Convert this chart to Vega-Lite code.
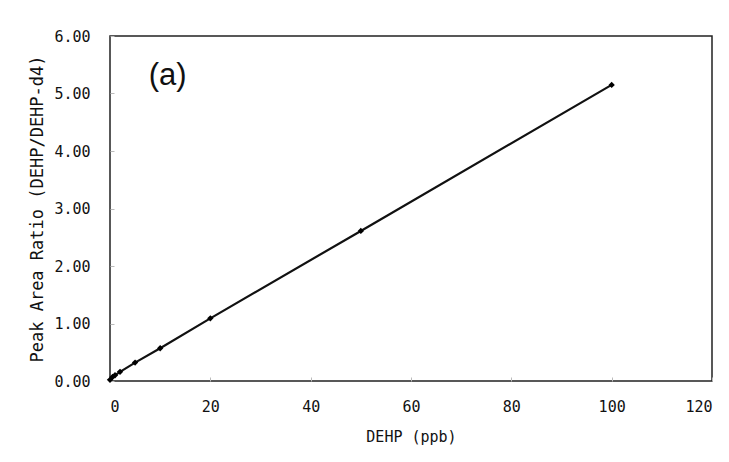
{
  "$schema": "https://vega.github.io/schema/vega-lite/v6.json",
  "width": 602,
  "height": 345,
  "autosize": {"type": "none"},
  "padding": {"left": 110, "top": 36, "right": 17, "bottom": 81},
  "background": "white",
  "config": {
    "view": {"stroke": "#222", "strokeWidth": 1.5},
    "axis": {"labelFont": "DejaVu Sans Mono", "titleFont": "DejaVu Sans Mono", "labelColor": "#111", "titleColor": "#111", "grid": false}
  },
  "datasets": {
    "pts": [
      {"dehp": 0, "ratio": 0.02},
      {"dehp": 0.5, "ratio": 0.07},
      {"dehp": 1, "ratio": 0.1},
      {"dehp": 2, "ratio": 0.16},
      {"dehp": 5, "ratio": 0.32},
      {"dehp": 10, "ratio": 0.57},
      {"dehp": 20, "ratio": 1.09},
      {"dehp": 50, "ratio": 2.61},
      {"dehp": 100, "ratio": 5.15}
    ],
    "label": [{"dehp": 11.5, "ratio": 5.3, "text": "(a)"}]
  },
  "layer": [
    {
      "data": {"name": "pts"},
      "mark": {"type": "line", "color": "#111", "strokeWidth": 2.2},
      "encoding": {
        "x": {"field": "dehp", "type": "quantitative", "scale": {"domain": [0, 120], "nice": false},
          "axis": {"title": "DEHP (ppb)", "values": [0, 20, 40, 60, 80, 100, 120], "tickSize": -4, "tickColor": "#bbb", "domain": false, "labelFontSize": 15, "labelPadding": 22, "titleFontSize": 15, "titleFontWeight": "normal", "titlePadding": 15}},
        "y": {"field": "ratio", "type": "quantitative", "scale": {"domain": [0, 6], "nice": false},
          "axis": {"title": "Peak Area Ratio (DEHP/DEHP-d4)", "values": [0, 1, 2, 3, 4, 5, 6], "format": ".2f", "tickSize": -4, "tickColor": "#bbb", "domain": false, "labelFontSize": 15, "labelPadding": 24, "titleFontSize": 17, "titleFontWeight": "normal", "titlePadding": 7}}
      }
    },
    {
      "data": {"name": "pts"},
      "mark": {"type": "point", "shape": "diamond", "filled": true, "color": "#000", "size": 40, "opacity": 1},
      "encoding": {
        "x": {"field": "dehp", "type": "quantitative"},
        "y": {"field": "ratio", "type": "quantitative"}
      }
    },
    {
      "data": {"name": "label"},
      "mark": {"type": "text", "font": "Liberation Sans", "fontSize": 31, "color": "#111", "align": "center", "baseline": "middle"},
      "encoding": {
        "x": {"field": "dehp", "type": "quantitative"},
        "y": {"field": "ratio", "type": "quantitative"},
        "text": {"field": "text"}
      }
    }
  ]
}
